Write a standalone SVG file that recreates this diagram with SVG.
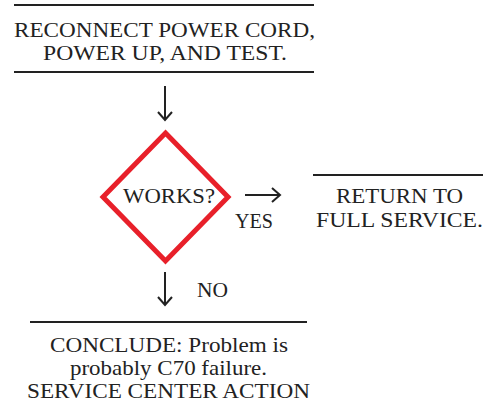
<svg xmlns="http://www.w3.org/2000/svg" width="496" height="412" viewBox="0 0 496 412">
<defs>
<style>
.t{font-family:"Liberation Serif","Times New Roman",serif;font-size:22px;fill:#222}
.rule{stroke:#222;stroke-width:2}
.conn{stroke:#222;stroke-width:2;fill:none}
</style>
</defs>
<rect width="496" height="412" fill="#fff"/>
<g id="n1">
<line class="rule" x1="14" y1="5" x2="314" y2="5"/>
<text class="t" x="14" y="37" textLength="301" lengthAdjust="spacingAndGlyphs">RECONNECT POWER CORD,</text>
<text class="t" x="43" y="60" textLength="244" lengthAdjust="spacingAndGlyphs">POWER UP, AND TEST.</text>
<line class="rule" x1="14" y1="72" x2="314" y2="72"/>
</g>
<g id="n2">
<polygon points="165.5,133 228,197 165.5,261 103,197" fill="#fff" stroke="#e8202a" stroke-width="5" stroke-linejoin="miter"/>
<text class="t" x="123" y="203" textLength="92" lengthAdjust="spacingAndGlyphs" style="font-size:21px">WORKS?</text>
</g>
<g id="n3">
<line class="rule" x1="313" y1="175" x2="483" y2="175"/>
<text class="t" x="336" y="203" textLength="127" lengthAdjust="spacingAndGlyphs">RETURN TO</text>
<text class="t" x="316" y="227" textLength="167" lengthAdjust="spacingAndGlyphs">FULL SERVICE.</text>
</g>
<g id="n4">
<line class="rule" x1="30" y1="322" x2="307" y2="322"/>
<text class="t" x="50" y="352" textLength="238" lengthAdjust="spacingAndGlyphs">CONCLUDE: Problem is</text>
<text class="t" x="70" y="375" textLength="197" lengthAdjust="spacingAndGlyphs">probably C70 failure.</text>
<text class="t" x="27" y="398" textLength="283" lengthAdjust="spacingAndGlyphs">SERVICE CENTER ACTION</text>
</g>
<g id="connectors">
<line class="conn" x1="165" y1="86" x2="165" y2="120"/>
<polyline class="conn" points="158,112 165,120 172,112"/>
<line class="conn" x1="245" y1="195" x2="280" y2="195"/>
<polyline class="conn" points="272,188 280,195 272,202"/>
<text class="t" x="235" y="228" textLength="38" lengthAdjust="spacingAndGlyphs">YES</text>
<line class="conn" x1="165" y1="272" x2="165" y2="305"/>
<polyline class="conn" points="158,297 165,305 172,297"/>
<text class="t" x="197" y="297" textLength="31" lengthAdjust="spacingAndGlyphs">NO</text>
</g>
</svg>
